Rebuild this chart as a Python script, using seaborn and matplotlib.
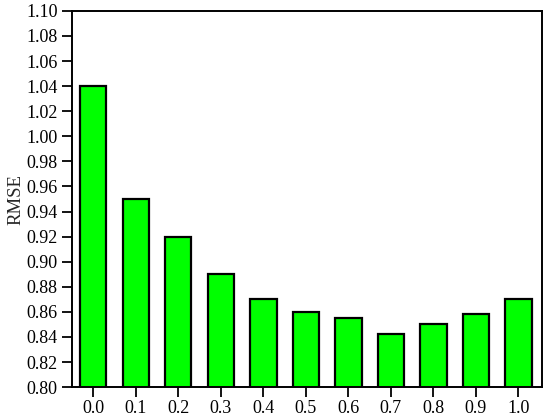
import pandas as pd
import matplotlib
matplotlib.use("Agg")
import matplotlib.pyplot as plt
import seaborn as sns

# values
alpha = ['0.0', '0.1', '0.2', '0.3', '0.4', '0.5', '0.6', '0.7', '0.8', '0.9', '1.0']
rmse = [1.04, 0.95, 0.92, 0.89, 0.87, 0.86, 0.855, 0.842, 0.85, 0.858, 0.87]
yticks = [0.80, 0.82, 0.84, 0.86, 0.88, 0.90, 0.92, 0.94, 0.96, 0.98, 1.00,
          1.02, 1.04, 1.06, 1.08, 1.10]

df = pd.DataFrame({'alpha': alpha, 'RMSE': rmse})

sns.set_style('ticks')
plt.rcParams['font.family'] = ['Liberation Serif', 'DejaVu Serif']

fig, ax = plt.subplots(figsize=(5.5, 4.19), dpi=100)
fig.subplots_adjust(left=0.131, right=0.985, top=0.974, bottom=0.076)

sns.barplot(x='alpha', y='RMSE', data=df, color='#00ff00', width=0.62,
            edgecolor='black', linewidth=1.6, saturation=1, ax=ax)

ax.set_ylim(0.80, 1.10)
ax.set_xlim(-0.5, 10.55)
ax.set_yticks(yticks)
ax.set_yticklabels(['%.2f' % t for t in yticks])
ax.set_xlabel('')
ax.set_ylabel('RMSE', fontsize=13.5, labelpad=1)
ax.tick_params(axis='both', direction='out', length=7, width=1.3,
               labelsize=13, colors='black', top=False, right=False)
ax.tick_params(axis='x', pad=2)
for s in ax.spines.values():
    s.set_linewidth(1.4)
    s.set_color('black')

plt.savefig('out.png', dpi=100)
